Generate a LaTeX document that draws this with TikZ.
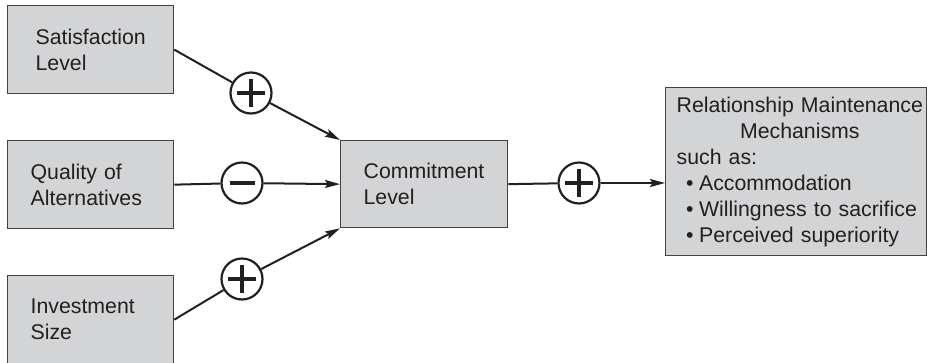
\documentclass[tikz,border=0pt]{standalone}
\usepackage{fontspec}
\setmainfont{Liberation Sans}
\usepackage{calc}
\usetikzlibrary{arrows.meta}
\definecolor{boxfill}{HTML}{D3D4D6}
\definecolor{ink}{HTML}{231F20}
\newcommand{\bulletitem}[1]{\mbox{\hspace*{9.5pt}•\hspace{5.5pt}#1}}
\tikzset{
  box/.style={draw=ink!85, line width=1.3pt, fill=boxfill, rectangle, anchor=north west,
    align=left, inner ysep=0pt, text=ink, font=\fontsize{21.3}{26}\selectfont},
  sign/.style={circle, draw=ink, line width=2.2pt, minimum size=41pt, inner sep=0pt, fill=white},
  plussign/.style={sign, path picture={
    \draw[line width=4pt, ink] (path picture bounding box.center) +(-14pt,0pt) -- +(14pt,0pt);
    \draw[line width=4pt, ink] (path picture bounding box.center) +(0pt,-14pt) -- +(0pt,14pt);}},
  minussign/.style={sign, path picture={
    \draw[line width=4pt, ink] (path picture bounding box.center) +(-12.5pt,0pt) -- +(12.5pt,0pt);}},
  conn/.style={draw=ink, line width=2pt},
  arr/.style={conn, -{Stealth[length=15pt,width=8pt,inset=2.5pt]}},
}
\begin{document}
\begin{tikzpicture}[x=1pt,y=-1pt]
\useasboundingbox (0,0) rectangle (927,362);
% boxes
\node[box, minimum width=166pt, minimum height=88pt, inner xsep=28pt, text width=110pt] (sat) at (7,5) {Satisfaction\\Level};
\node[box, minimum width=166pt, minimum height=88pt, inner xsep=23pt, text width=120pt] (qual) at (7,140) {Quality of\\Alternatives};
\node[box, minimum width=166pt, minimum height=88pt, inner xsep=23pt, text width=120pt] (inv) at (7,275) {Investment\\Size};
\node[box, minimum width=167pt, minimum height=87pt, inner xsep=23pt, text width=121pt] (com) at (340,140) {Commitment\\Level};
\node[box, minimum width=261pt, minimum height=168pt, inner xsep=11pt, text width=239pt] (rb) at (665,87)
  {\mbox{Relationship Maintenance}\\
   \makebox[\widthof{Relationship Maintenance}]{Mechanisms}\\
   such as:\\
   \bulletitem{Accommodation}\\
   \bulletitem{Willingness to sacrifice}\\
   \bulletitem{Perceived superiority}};
% signs
\node[plussign] (p1) at (251,93) {};
\node[minussign] (p2) at (242,183) {};
\node[plussign] (p3) at (242,279) {};
\node[plussign] (p4) at (579,183) {};
% connectors
\draw[conn] (sat.east) -- (p1);
\draw[arr] (p1) -- (com.north west);
\draw[conn] (qual.east) -- (p2);
\draw[arr] (p2) -- (com.west);
\draw[conn] (inv.east) -- (p3);
\draw[arr] (p3) -- (com.south west);
\draw[conn] (com.east) -- (p4);
\draw[arr] (p4) -- (rb.west |- p4);
\end{tikzpicture}
\end{document}
